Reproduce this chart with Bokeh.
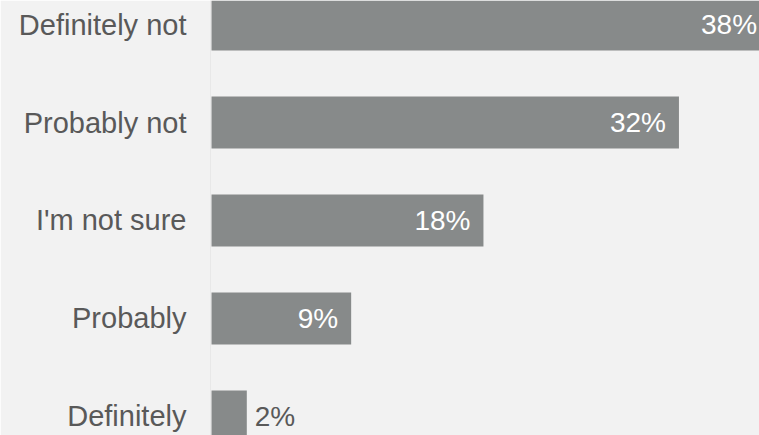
from bokeh.plotting import figure
from bokeh.models import ColumnDataSource, Range1d, FixedTicker, LabelSet
from bokeh.core.properties import value
from bokeh.embed import file_html
from bokeh.resources import INLINE

categories = ["Definitely not", "Probably not", "I'm not sure", "Probably", "Definitely"]
values = [38.0, 31.8, 18.5, 9.5, 2.4]
value_labels = ["38%", "32%", "18%", "9%", "2%"]

BAR = "#878a8a"
TXT = "#595959"
BG = "#f2f2f2"
FONT = "Liberation Sans"

pos = list(range(len(categories)))
inside = [v >= 5 for v in values]
src = ColumnDataSource(dict(
    y=pos, v=values, lab=value_labels,
    col=["white" if i else TXT for i in inside],
    align=["right" if i else "left" for i in inside],
    off=[-13 if i else 8 for i in inside],
))

p = figure(width=759, height=435, output_backend="svg", toolbar_location=None,
           x_range=Range1d(-0.07, 37.28), y_range=Range1d(4.194, -0.245),
           min_border_left=210, min_border_right=0, min_border_top=0, min_border_bottom=0,
           background_fill_color=BG, border_fill_color=BG, outline_line_color=None)

p.hbar(y="y", left=0, right="v", height=0.53, source=src, fill_color=BAR, line_color=None)

labels = LabelSet(x="v", y="y", text="lab", source=src, x_offset="off",
                  text_align="align", text_baseline="middle", text_color="col",
                  text_font=value(FONT), text_font_size=value("28px"))
p.add_layout(labels)

p.xaxis.visible = False
p.xgrid.visible = False
p.ygrid.visible = False
ya = p.yaxis[0]
ya.ticker = FixedTicker(ticks=pos)
ya.major_label_overrides = {i: c for i, c in zip(pos, categories)}
ya.major_label_text_font = FONT
ya.major_label_text_font_size = "29px"
ya.major_label_text_color = TXT
ya.major_tick_out = 0
ya.major_tick_in = 0
ya.minor_tick_out = 0
ya.minor_tick_in = 0
ya.major_label_standoff = 24
ya.axis_line_color = "#e8e8e8"

open("out.html", "w").write(file_html(p, INLINE))
